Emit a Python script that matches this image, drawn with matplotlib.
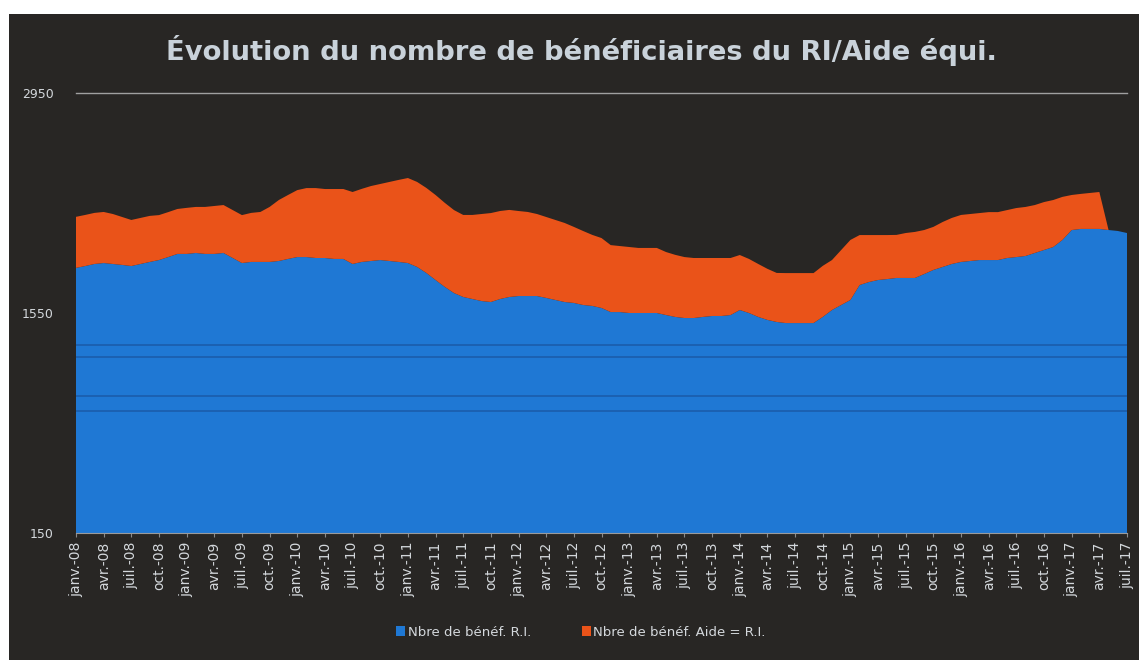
import numpy as np
import matplotlib
matplotlib.use('Agg')
import matplotlib.pyplot as plt
from matplotlib.patches import Rectangle

# monthly data, janv.-08 .. juil.-17
benef_ri = [1837, 1849, 1862, 1868, 1862, 1856, 1849, 1862, 1875, 1887,
            1906, 1926, 1926, 1932, 1926, 1926, 1932, 1900, 1868, 1875,
            1875, 1875, 1881, 1894, 1906, 1906, 1900, 1900, 1894, 1894,
            1862, 1875, 1881, 1887, 1881, 1875, 1868, 1843, 1805, 1760,
            1716, 1677, 1652, 1639, 1626, 1620, 1639, 1652, 1658, 1658,
            1658, 1646, 1633, 1620, 1614, 1601, 1595, 1582, 1556, 1556,
            1550, 1550, 1550, 1550, 1537, 1525, 1518, 1518, 1525, 1531,
            1531, 1537, 1569, 1550, 1525, 1506, 1493, 1486, 1486, 1486,
            1486, 1525, 1569, 1601, 1633, 1728, 1747, 1760, 1766, 1773,
            1773, 1773, 1798, 1824, 1843, 1862, 1875, 1881, 1887, 1887,
            1887, 1900, 1906, 1913, 1932, 1951, 1970, 2015, 2078, 2085,
            2085, 2085, 2078, 2072, 2059]
benef_aide = [325, 325, 325, 325, 318, 305, 293, 293, 293, 286,
              286, 286, 293, 293, 299, 305, 305, 305, 305, 312,
              318, 350, 388, 407, 426, 439, 445, 439, 445, 445,
              458, 465, 477, 484, 503, 522, 541, 541, 541, 541,
              535, 528, 522, 535, 554, 566, 560, 554, 541, 535,
              522, 515, 509, 503, 484, 471, 452, 445, 426, 420,
              420, 414, 414, 414, 401, 395, 388, 382, 375, 369,
              369, 363, 350, 344, 337, 325, 312, 318, 318, 318,
              318, 325, 318, 350, 382, 318, 299, 286, 280, 274,
              286, 293, 280, 274, 286, 293, 299, 299, 299, 305,
              305, 305, 312, 312, 305, 305, 299, 274, 223, 223,
              229, 235, 0, 0, 0]

mois = ['janv.', 'avr.', 'juil.', 'oct.']
tick_labels = ['%s-%02d' % (mois[i % 4], 8 + i // 4) for i in range(39)]
y_ticks = [150, 1550, 2950]
# dark streaks visible across the blue area of the scan
streaks = [1346, 1270, 1022, 926]

bg = '#282624'
blue = '#1f78d4'
orange = '#ea5319'
txt = '#d4d8dc'

fig = plt.figure(figsize=(11.39, 6.6), dpi=100)
fig.patch.set_facecolor('white')
fig.patches.append(Rectangle((9 / 1139, 0), 1, 646 / 660, transform=fig.transFigure,
                             facecolor=bg, edgecolor='none', zorder=-5))

ax = fig.add_axes([76 / 1139, 1 - 533 / 660, 1051 / 1139, 440 / 660])
ax.set_facecolor(bg)
x = np.arange(len(benef_ri))
ax.stackplot(x, benef_ri, benef_aide, colors=[blue, orange],
             labels=['Nbre de bénéf. R.I.', 'Nbre de bénéf. Aide = R.I.'], zorder=2)
for v in streaks:
    ax.axhline(v, color='#1a55a0', lw=1.1, alpha=0.85, zorder=3)
ax.axhline(2950, color='#a0a0a0', lw=1, zorder=1, clip_on=False)

ax.set_xlim(0, len(benef_ri) - 1)
ax.set_ylim(150, 2950)
ax.set_xticks(x[::3])
ax.set_xticklabels(tick_labels, rotation=90, fontsize=10, color=txt)
ax.set_yticks(y_ticks)
ax.set_yticklabels([str(v) for v in y_ticks], fontsize=9, color=txt)
ax.tick_params(axis='x', length=3, color='#8a8a8a', pad=3)
ax.tick_params(axis='y', length=0, pad=16)
for s in ['top', 'right', 'left']:
    ax.spines[s].set_visible(False)
ax.spines['bottom'].set_color('#9a9a9a')

fig.text(581 / 1139, 1 - 50 / 660, 'Évolution du nombre de bénéficiaires du RI/Aide équi.',
         ha='center', va='center', fontsize=19.7, fontweight='bold', color='#c9d2da')

ax.legend(loc='center', bbox_to_anchor=((581 - 76) / 1051, (1 - 632 / 660 - (1 - 533 / 660)) / (440 / 660)),
          ncol=2, frameon=False, fontsize=9.5, labelcolor=txt, handlelength=0.7,
          handleheight=0.7, handletextpad=0.2, columnspacing=3.8)

fig.savefig('out.png', dpi=100, facecolor=fig.get_facecolor())
